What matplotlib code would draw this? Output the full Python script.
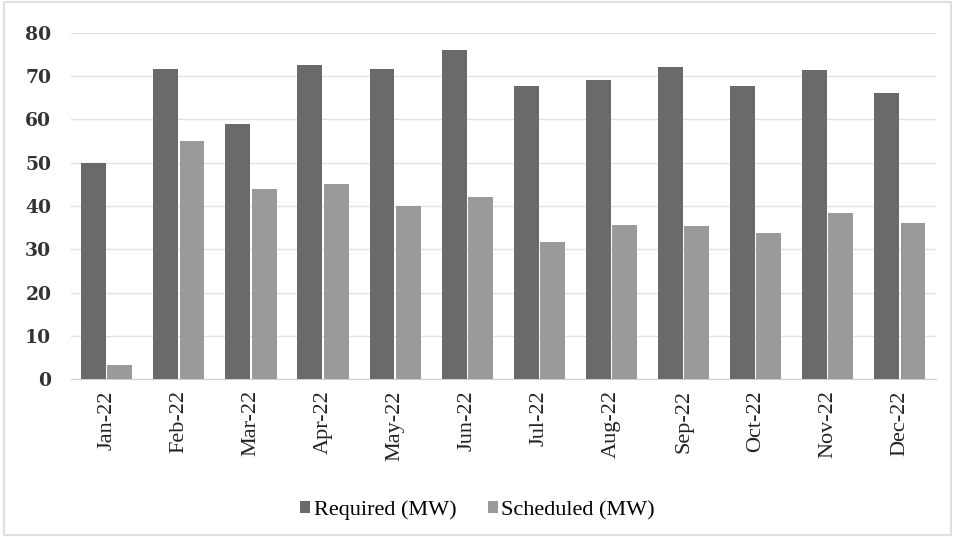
import matplotlib
matplotlib.use("Agg")
import matplotlib.pyplot as plt
import numpy as np

months = ["Jan-22", "Feb-22", "Mar-22", "Apr-22", "May-22", "Jun-22",
          "Jul-22", "Aug-22", "Sep-22", "Oct-22", "Nov-22", "Dec-22"]
required = [50, 71.6, 59, 72.5, 71.6, 76, 67.7, 69, 72, 67.7, 71.4, 66]
scheduled = [3.2, 55, 44, 45, 40, 42, 31.6, 35.5, 35.3, 33.7, 38.3, 36]
yticks = [0, 10, 20, 30, 40, 50, 60, 70, 80]

fig = plt.figure(figsize=(9.55, 5.37), dpi=100)
ax = fig.add_axes([0.074, 0.294, 0.906, 0.645])

x = np.arange(len(months))
w = 0.345
ax.bar(x - w/2 - 0.01, required, width=w, color="#6a6a6a", label="Required (MW)", zorder=3)
ax.bar(x + w/2 + 0.01, scheduled, width=w, color="#9a9a9a", label="Scheduled (MW)", zorder=3)

ax.set_xlim(-0.5, len(months) - 0.5)
ax.set_ylim(0, 80)
ax.set_yticks(yticks)
ax.set_yticklabels([str(v) for v in yticks], fontfamily="DejaVu Serif",
                   fontweight="bold", fontsize=13.5, color="#333333")
ax.set_xticks(x)
ax.set_xticklabels(months, rotation=90, fontfamily="Liberation Serif",
                   fontsize=16, color="#222222")
ax.tick_params(axis="y", length=0, pad=14)
ax.tick_params(axis="x", length=0, pad=8)
ax.grid(axis="y", color="#e2e2e2", linewidth=1, zorder=0)
for s in ["top", "right", "left"]:
    ax.spines[s].set_visible(False)
ax.spines["bottom"].set_color("#d0d0d0")

leg = fig.legend(loc="center", bbox_to_anchor=(0.50, 0.05), ncol=2, frameon=False,
                 prop={"family": "Liberation Serif", "size": 16},
                 handlelength=0.45, handleheight=0.45, handletextpad=0.15,
                 columnspacing=1.4)

fig.patches.append(plt.Rectangle((0.004, 0.004), 0.992, 0.992, transform=fig.transFigure,
                                 fill=False, edgecolor="#e0e0e0", linewidth=1.5))
fig.savefig("out.png", dpi=100, facecolor="white")
